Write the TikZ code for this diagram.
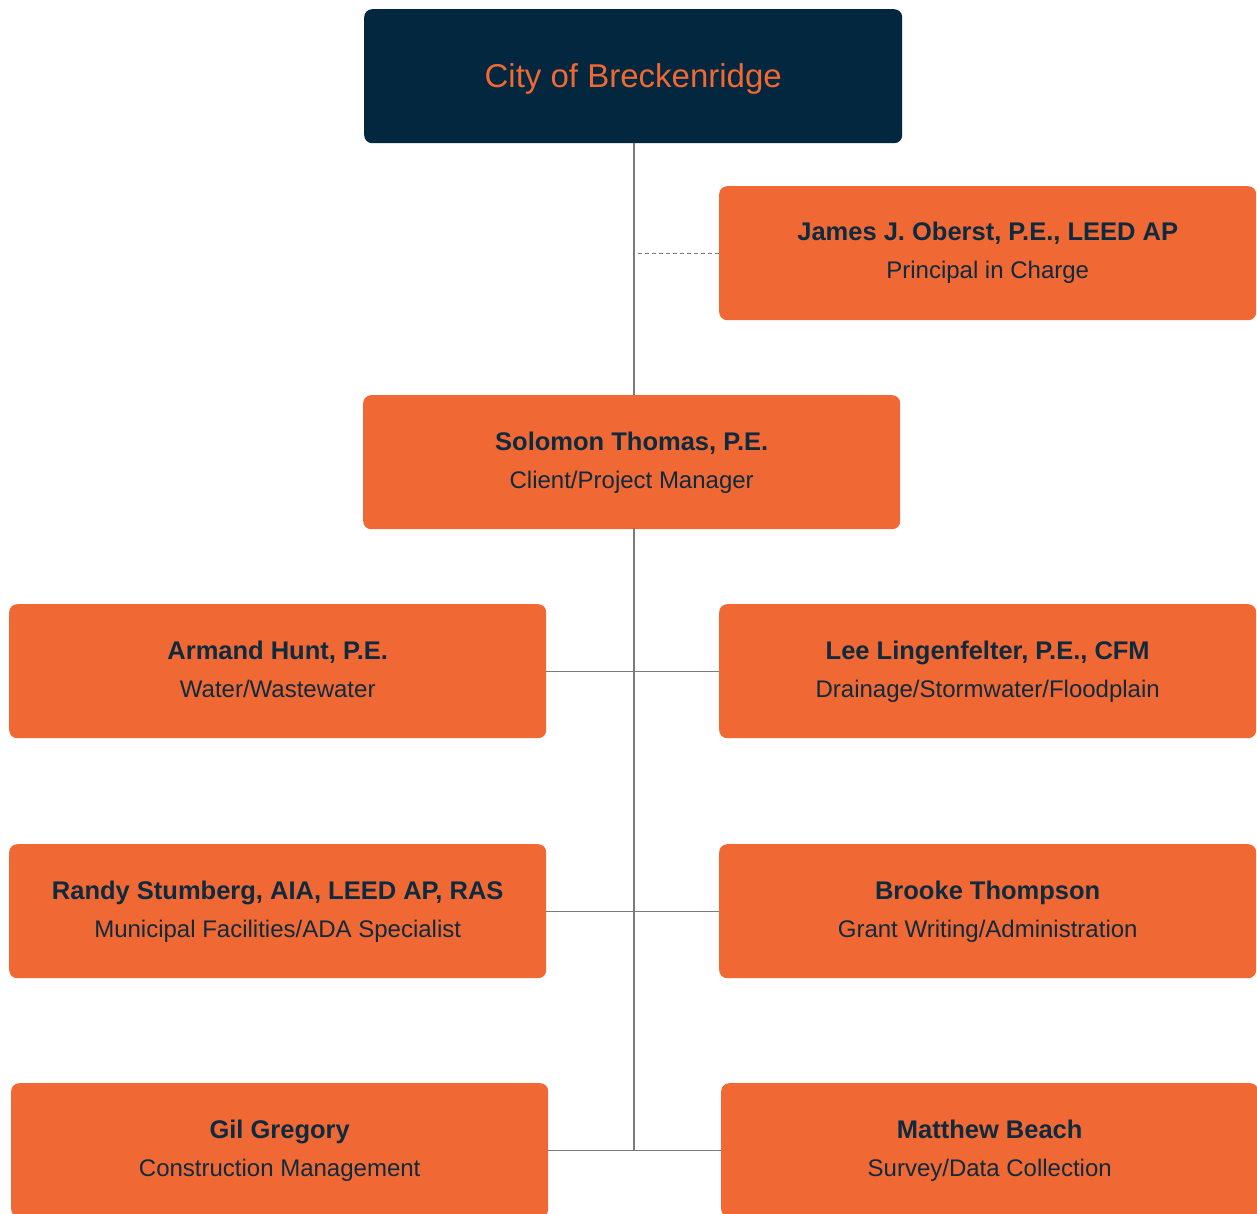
\documentclass[tikz,border=0pt]{standalone}
\usepackage{fontspec}
\setmainfont{Liberation Sans}
\usetikzlibrary{calc}
\definecolor{navy}{HTML}{02273E}
\definecolor{orng}{HTML}{F06833}
\definecolor{txt}{HTML}{0E2A3E}
\definecolor{conn}{HTML}{7A7A7A}
\begin{document}
\begin{tikzpicture}[x=1pt,y=-1pt,
  box/.style={fill=orng, rounded corners=8pt, minimum width=537pt, minimum height=134pt, inner sep=0pt, anchor=north west},
  topbox/.style={box, fill=navy, minimum width=538pt},
  nm/.style={font=\fontsize{25.5}{28}\selectfont\bfseries, text=txt, anchor=base, inner sep=0pt},
  rl/.style={font=\fontsize{24}{28}\selectfont, text=txt, anchor=base, inner sep=0pt},
  ttl/.style={font=\fontsize{33}{36}\selectfont, text=orng, anchor=base, inner sep=0pt},
  link/.style={draw=conn, line width=1.3pt},
  dlink/.style={draw=conn, line width=1pt, dash pattern=on 4pt off 3pt}]
\useasboundingbox (0,0) rectangle (1257,1214);
% boxes
\node[topbox] (city) at (364,9) {};
\node[box] (james) at (719,186) {};
\node[box] (sol) at (363,395) {};
\node[box] (armand) at (9,604) {};
\node[box] (lee) at (719,604) {};
\node[box] (randy) at (9,844) {};
\node[box] (brooke) at (719,844) {};
\node[box] (gil) at (11,1083) {};
\node[box] (matt) at (721,1083) {};
% texts
\node[ttl] (cityT) at ($(city.north)+(0,79)$) {City of Breckenridge};
\node[nm] (jamesN) at ($(james.north)+(0,55)$) {James J. Oberst, P.E., LEED AP};
\node[rl] (jamesR) at ($(james.north)+(0,93)$) {Principal in Charge};
\node[nm] (solN) at ($(sol.north)+(0,55)$) {Solomon Thomas, P.E.};
\node[rl] (solR) at ($(sol.north)+(0,93)$) {Client/Project Manager};
\node[nm] (armandN) at ($(armand.north)+(0,55)$) {Armand Hunt, P.E.};
\node[rl] (armandR) at ($(armand.north)+(0,93)$) {Water/Wastewater};
\node[nm] (leeN) at ($(lee.north)+(0,55)$) {Lee Lingenfelter, P.E., CFM};
\node[rl] (leeR) at ($(lee.north)+(0,93)$) {Drainage/Stormwater/Floodplain};
\node[nm] (randyN) at ($(randy.north)+(0,55)$) {Randy Stumberg, AIA, LEED AP, RAS};
\node[rl] (randyR) at ($(randy.north)+(0,93)$) {Municipal Facilities/ADA Specialist};
\node[nm] (brookeN) at ($(brooke.north)+(0,55)$) {Brooke Thompson};
\node[rl] (brookeR) at ($(brooke.north)+(0,93)$) {Grant Writing/Administration};
\node[nm] (gilN) at ($(gil.north)+(0,55)$) {Gil Gregory};
\node[rl] (gilR) at ($(gil.north)+(0,93)$) {Construction Management};
\node[nm] (mattN) at ($(matt.north)+(0,55)$) {Matthew Beach};
\node[rl] (mattR) at ($(matt.north)+(0,93)$) {Survey/Data Collection};
% connectors
\coordinate (t1) at (634,143);
\coordinate (t2) at (634,395);
\coordinate (t3) at (634,528);
\coordinate (t4) at (634,1150);
\draw[link] (t1) -- (t2);
\draw[link] (t3) -- (t4);
\draw[dlink] (james.west) -- (james.west -| t1);
\draw[link] (armand.east) -- (lee.west);
\draw[link] (randy.east) -- (brooke.west);
\draw[link] (gil.east) -- (matt.west);
\end{tikzpicture}
\end{document}
